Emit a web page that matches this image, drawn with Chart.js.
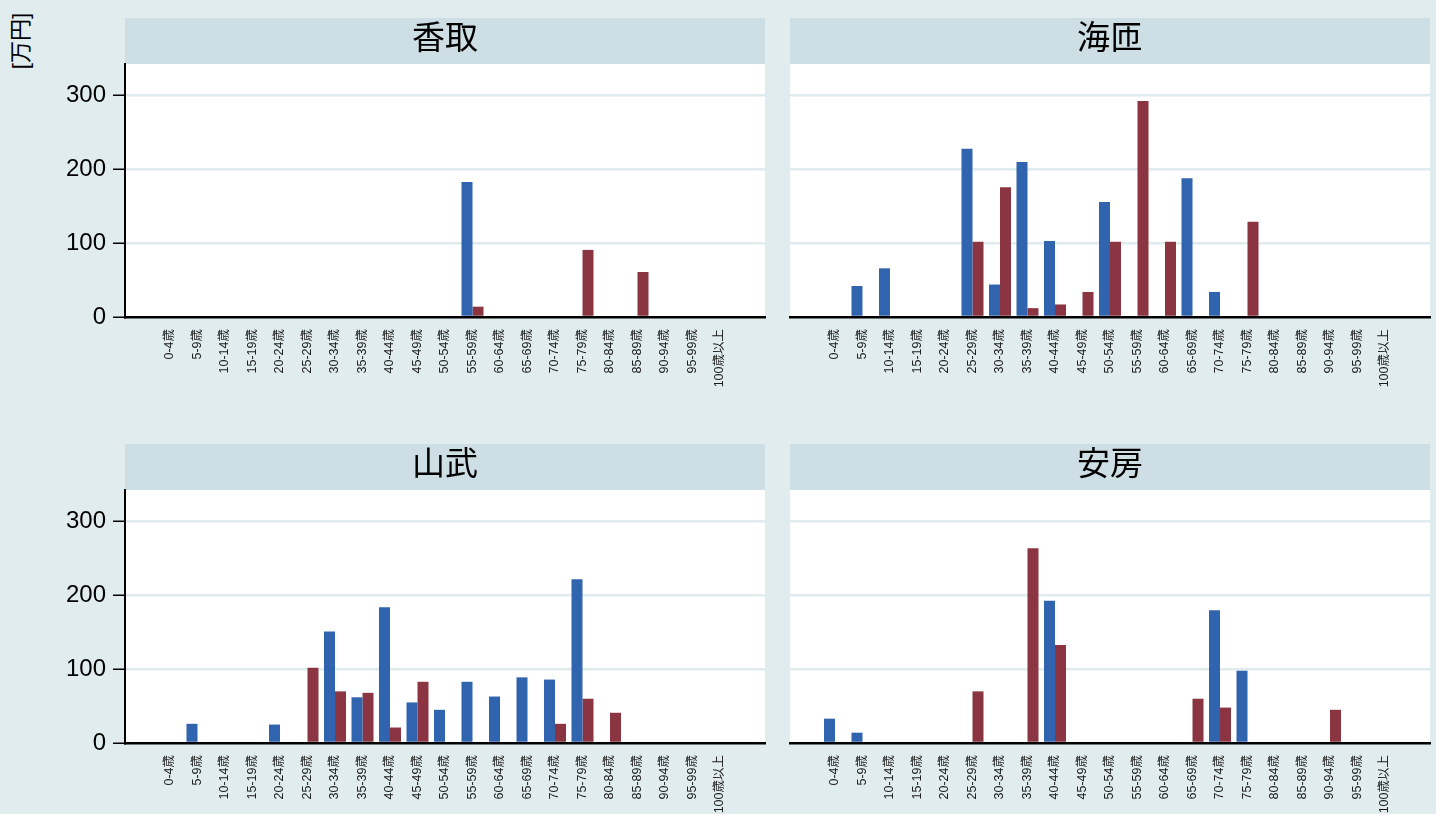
<!DOCTYPE html>
<html>
<head>
<meta charset="utf-8">
<script src="https://cdn.jsdelivr.net/npm/chart.js@4.4.1/dist/chart.umd.min.js"></script>
<style>
	body { margin: 0; width: 1436px; height: 814px; overflow: hidden; position: relative; background: #e1ecef; font-family: "Liberation Sans", "Noto Sans CJK JP", sans-serif; }
	canvas { position: absolute; }
	#ytitle { position: absolute; left: -19px; top: 29px; width: 80px; height: 24px; line-height: 24px; text-align: center; font-size: 22px; transform: rotate(-90deg); color: #000; }
</style>
</head>
<body>
<div id="ytitle">[万円]</div>
<canvas id="katori" width="775" height="410" style="left:0;top:0"></canvas>
<canvas id="kaiso" width="661" height="410" style="left:775px;top:0"></canvas>
<canvas id="sanbu" width="775" height="410" style="left:0;top:426px"></canvas>
<canvas id="awa" width="661" height="410" style="left:775px;top:426px"></canvas>
<script>
const ageLabels = ['0-4歳', '5-9歳', '10-14歳', '15-19歳', '20-24歳', '25-29歳', '30-34歳', '35-39歳', '40-44歳', '45-49歳', '50-54歳', '55-59歳', '60-64歳', '65-69歳', '70-74歳', '75-79歳', '80-84歳', '85-89歳', '90-94歳', '95-99歳', '100歳以上']
const yTicks = [0, 100, 200, 300]

const katoriBlue = [0, 0, 0, 0, 0, 0, 0, 0, 0, 0, 0, 183, 0, 0, 0, 0, 0, 0, 0, 0, 0]
const katoriRed = [0, 0, 0, 0, 0, 0, 0, 0, 0, 0, 0, 14, 0, 0, 0, 91, 0, 61, 0, 0, 0]
const kaisoBlue = [0, 42, 66, 0, 0, 228, 44, 210, 103, 0, 156, 0, 0, 188, 34, 0, 0, 0, 0, 0, 0]
const kaisoRed = [0, 0, 0, 0, 0, 102, 176, 12, 17, 34, 102, 293, 102, 0, 0, 129, 0, 0, 0, 0, 0]
const sanbuBlue = [0, 26, 0, 0, 25, 0, 151, 62, 184, 55, 45, 83, 63, 89, 86, 222, 0, 0, 0, 0, 0]
const sanbuRed = [0, 0, 0, 0, 0, 102, 70, 68, 21, 83, 0, 0, 0, 0, 26, 60, 41, 0, 0, 0, 0]
const awaBlue = [33, 14, 0, 0, 0, 0, 0, 0, 193, 0, 0, 0, 0, 0, 180, 98, 0, 0, 0, 0, 0]
const awaRed = [0, 0, 0, 0, 0, 70, 0, 264, 133, 0, 0, 0, 0, 60, 48, 0, 0, 0, 45, 0, 0]

Chart.defaults.font.family = '"Liberation Sans", "Noto Sans CJK JP", sans-serif'
Chart.defaults.color = '#000'

// title band and white plot area
const bandPlugin = {
	id: 'band',
	beforeDraw(chart) {
		const { ctx, chartArea: a } = chart
		ctx.save()
		ctx.fillStyle = '#cedee5'
		ctx.fillRect(a.left, a.top - 46, a.right - a.left, 46)
		ctx.fillStyle = '#ffffff'
		ctx.fillRect(a.left, a.top, a.right - a.left, a.bottom - a.top)
		ctx.restore()
	}
}

function makePanel(id, title, blue, red, showY) {
	new Chart(document.getElementById(id), {
		type: 'bar',
		data: {
			datasets: [
				{ label: 'blue', data: blue.map((v, i) => ({ x: i, y: v })), backgroundColor: '#3064ae' },
				{ label: 'red', data: red.map((v, i) => ({ x: i, y: v })), backgroundColor: '#8a3541' }
			]
		},
		options: {
			responsive: false,
			animation: false,
			categoryPercentage: 0.8,
			barPercentage: 1,
			layout: { padding: { right: showY ? 10 : 6 } },
			plugins: {
				legend: { display: false },
				tooltip: { enabled: false },
				title: {
					display: true,
					text: title,
					fullSize: false,
					font: { size: 33, weight: 'normal', family: '"Noto Sans CJK JP", sans-serif', lineHeight: 1 },
					padding: { top: 20, bottom: 11 }
				}
			},
			scales: {
				x: {
					type: 'linear',
					min: -1.636,
					max: 21.636,
					offset: false,
					grid: { display: false },
					border: { color: '#000', width: 2.5 },
					ticks: {
						autoSkip: false,
						minRotation: 90,
						maxRotation: 90,
						padding: 4,
						color: '#1a1a1a',
						font: { size: 12.5 },
						callback: (v) => ageLabels[v]
					},
					afterBuildTicks: (s) => { s.ticks = ageLabels.map((_, i) => ({ value: i })) },
					afterFit: (s) => { s.height = 93 }
				},
				y: {
					min: 0,
					max: 343,
					grid: {
						color: (c) => (c.tick && c.tick.value === 0 ? 'rgba(0,0,0,0)' : '#e0ebee'),
						lineWidth: 2.5,
						drawTicks: showY,
						tickLength: 12,
						tickColor: '#000',
						tickWidth: 1.5
					},
					border: { display: showY, color: '#000', width: 2 },
					ticks: { display: showY, padding: 7, font: { size: 24 } },
					afterBuildTicks: (s) => { s.ticks = yTicks.map((v) => ({ value: v })) },
					afterFit: (s) => { s.width = showY ? 125 : 15 }
				}
			}
		},
		plugins: [bandPlugin]
	})
}

makePanel('katori', '香取', katoriBlue, katoriRed, true)
makePanel('kaiso', '海匝', kaisoBlue, kaisoRed, false)
makePanel('sanbu', '山武', sanbuBlue, sanbuRed, true)
makePanel('awa', '安房', awaBlue, awaRed, false)
</script>
</body>
</html>
